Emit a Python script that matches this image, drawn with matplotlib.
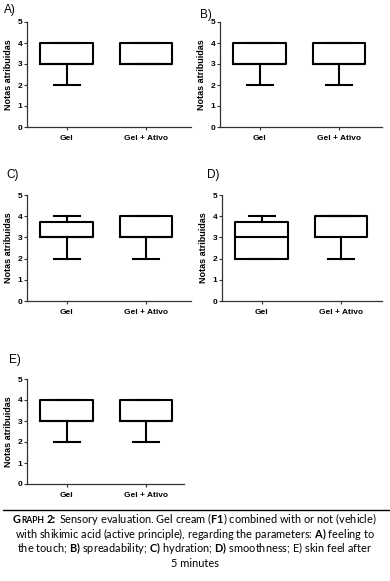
"""
Graph 2 — sensory evaluation box plots (A-E)
"""
import matplotlib
matplotlib.use("Agg")
import matplotlib.pyplot as plt

# ── Data ─────────────────────────────────────────────────────────────────────
groups = ["Gel", "Gel + Ativo"]
panel_labels = ["A)", "B)", "C)", "D)", "E)"]

# five-number summaries (min, q1, median, q3, max) per panel, per group
gel_stats = [
    (2, 3, 3, 4, 4),
    (2, 3, 3, 4, 4),
    (2, 3, 3, 3.75, 4),
    (2, 2, 3, 3.75, 4),
    (2, 3, 3, 4, 4),
]
ativo_stats = [
    (3, 3, 3, 4, 4),
    (2, 3, 3, 4, 4),
    (2, 3, 3, 4, 4),
    (2, 3, 4, 4, 4),
    (2, 3, 3, 4, 4),
]
yticks = [0, 1, 2, 3, 4, 5]
ylabel = "Notas atribuidas"

caption_head = ["G", "RAPH", "2:"]
caption_lines = [
    r"Sensory evaluation. Gel cream ($\mathbf{F1}$) combined with or not (vehicle)",
    r"with shikimic acid (active principle), regarding the parameters: $\mathbf{A)}$ feeling to",
    r"the touch; $\mathbf{B)}$ spreadability; $\mathbf{C)}$ hydration; $\mathbf{D)}$ smoothness; E) skin feel after",
    "5 minutes",
]

# ── Layout (pixels) ─────────────────────────────────────────────────────────
W, H = 390, 581
# (left, top, right, bottom)
axes_px = [
    (27, 22, 191, 127),
    (220, 22, 382, 127),
    (27, 195, 191, 301),
    (222, 195, 382, 301),
    (27, 379, 184, 484),
]
label_px = [(4, 10), (200, 15), (6, 175), (207, 175), (9, 360)]

plt.rcParams["font.family"] = ["Liberation Sans", "DejaVu Sans"]
plt.rcParams["mathtext.fontset"] = "custom"
plt.rcParams["mathtext.rm"] = "Lato"
plt.rcParams["mathtext.bf"] = "Lato:bold"
fig = plt.figure(figsize=(W / 100, H / 100), dpi=100)
spine_col = "#333333"

def to_rect(l, t, r, b):
    return [l / W, 1 - b / H, (r - l) / W, (b - t) / H]

for i, (l, t, r, b) in enumerate(axes_px):
    ax = fig.add_axes(to_rect(l, t, r, b))
    stats = []
    for s, name in zip((gel_stats[i], ativo_stats[i]), groups):
        stats.append({"whislo": s[0], "q1": s[1], "med": s[2], "q3": s[3],
                      "whishi": s[4], "label": name, "fliers": []})
    lw = 1.5
    ax.bxp(stats, positions=[1, 2], widths=0.66, capwidths=0.33, showfliers=False,
           boxprops=dict(color="black", linewidth=lw),
           medianprops=dict(color="black", linewidth=lw),
           whiskerprops=dict(color="black", linewidth=lw),
           capprops=dict(color="black", linewidth=lw))
    ax.set_xlim(0.5, 2.5 + (r - l - 164) / 79 + 0.07)
    ax.set_ylim(0, 5)
    ax.set_yticks(yticks)
    ax.set_xticks([1, 2])
    ax.set_xticklabels(groups, fontsize=6, fontweight="bold")
    for lab in ax.get_yticklabels():
        lab.set_fontsize(6); lab.set_fontweight("bold")
    ax.tick_params(length=2, width=0.8, pad=1.5, colors=spine_col, labelcolor="black")
    ax.tick_params(axis="x", pad=3.5)
    for side in ("top", "right"):
        ax.spines[side].set_visible(False)
    for side in ("left", "bottom"):
        ax.spines[side].set_color(spine_col)
        ax.spines[side].set_linewidth(0.9)
    ax.set_ylabel(ylabel, fontsize=6.5, fontweight="bold", labelpad=3)
    lx, ly = label_px[i]
    fig.text(lx / W, 1 - ly / H, panel_labels[i], fontsize=8.5, va="center", ha="left")

# ── Caption ──────────────────────────────────────────────────────────────────
fig.add_artist(plt.Line2D([3 / W, 1.0], [1 - 510 / H] * 2, color="black", linewidth=1.0))

cap_size = 7.9
cap_font = ["Lato", "DejaVu Sans"]
renderer = fig.canvas.get_renderer()
for k, line in enumerate(caption_lines):
    y = 1 - (523 + 14.6 * k) / H
    if k > 0:
        fig.text(0.5, y, line, fontsize=cap_size, family=cap_font, va="baseline", ha="center")
        continue
    # first line: small-caps "GRAPH 2:" + rest, placed piece by piece
    texts = [
        fig.text(0, y, caption_head[0], fontsize=cap_size, fontweight="bold",
                 family=cap_font, va="baseline", ha="left"),
        fig.text(0, y, caption_head[1], fontsize=cap_size * 0.78, fontweight="bold",
                 family=cap_font, va="baseline", ha="left"),
        fig.text(0, y, caption_head[2], fontsize=cap_size, fontweight="bold",
                 family=cap_font, va="baseline", ha="left"),
        fig.text(0, y, line, fontsize=cap_size, family=cap_font, va="baseline", ha="left"),
    ]
    gaps = [0.6, 2.6, 2.8, 0]
    widths = [t.get_window_extent(renderer).width for t in texts]
    x = (W - sum(widths) - sum(gaps)) / 2
    for t, w, g in zip(texts, widths, gaps):
        t.set_x(x / W)
        x += w + g

fig.savefig("out.png", dpi=100)
